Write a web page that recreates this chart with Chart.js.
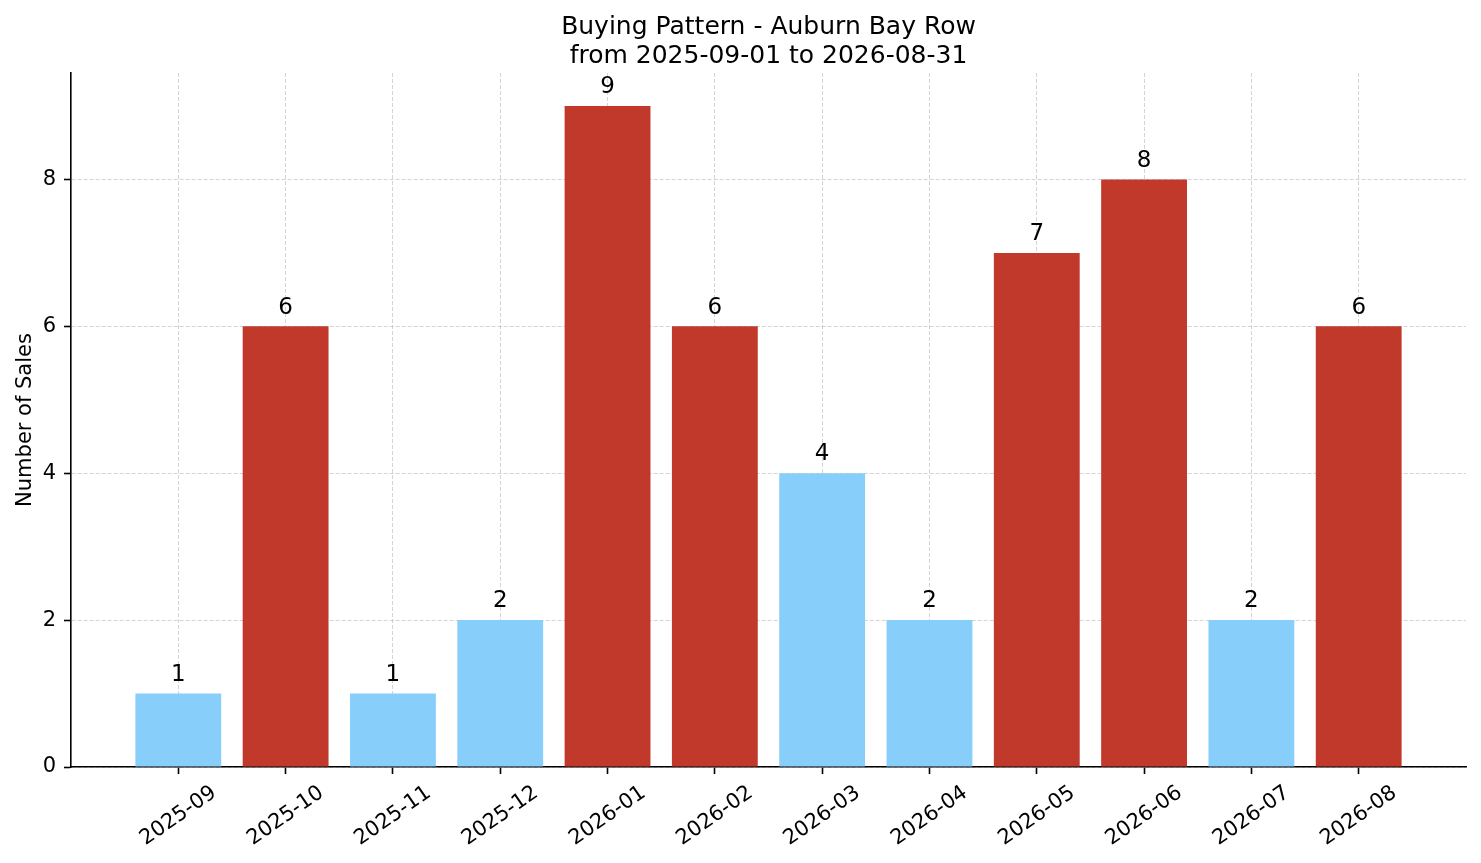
<!DOCTYPE html>
<html>
<head>
<meta charset="utf-8">
<script src="https://cdn.jsdelivr.net/npm/chart.js@4/dist/chart.umd.min.js"></script>
<style>
  html, body { margin: 0; padding: 0; background: #fff; }
  #wrap { width: 1481px; height: 863px; }
</style>
</head>
<body>
<div id="wrap"><canvas id="salesChart" width="1481" height="863"></canvas></div>
<script>
// data
const months = ['2025-09', '2025-10', '2025-11', '2025-12', '2026-01', '2026-02',
                '2026-03', '2026-04', '2026-05', '2026-06', '2026-07', '2026-08'];
const sales = [1, 6, 1, 2, 9, 6, 4, 2, 7, 8, 2, 6];
const yTicks = [0, 2, 4, 6, 8];
const titleLines = ['Buying Pattern - Auburn Bay Row', 'from 2025-09-01 to 2026-08-31'];
const yTitle = 'Number of Sales';

const HIGH = '#c0392b';
const LOW = '#87cefa';
const FONT = '"DejaVu Sans", "Liberation Sans", sans-serif';
const gridColor = 'rgba(170, 170, 170, 0.5)';

// bars at 5 or more sales are red, the rest light blue
const barColors = sales.map(v => (v >= 5 ? HIGH : LOW));

// draws title, rotated month labels, y title and bar value labels
const textPlugin = {
    id: 'textPlugin',
    afterDraw(chart) {
        const ctx = chart.ctx;
        const x = chart.scales.x;
        const y = chart.scales.y;
        const area = chart.chartArea;
        ctx.save();
        ctx.fillStyle = '#000';

        // title, centred over the axes
        ctx.font = '25px ' + FONT;
        ctx.textAlign = 'center';
        ctx.textBaseline = 'alphabetic';
        const cx = (area.left + area.right) / 2;
        ctx.fillText(titleLines[0], cx, 34);
        ctx.fillText(titleLines[1], cx, 63);

        // value labels above bars
        ctx.font = '23px ' + FONT;
        sales.forEach((v, i) => {
            ctx.fillText(String(v), x.getPixelForValue(i), y.getPixelForValue(v + 0.1) - 5.4);
        });

        // month labels rotated 35 degrees, centred under tick
        ctx.font = '21px ' + FONT;
        ctx.textBaseline = 'middle';
        const angle = 35 * Math.PI / 180;
        months.forEach((m, i) => {
            const w = ctx.measureText(m).width;
            const h = 24;
            const boxH = w * Math.sin(angle) + h * Math.cos(angle);
            ctx.save();
            ctx.translate(x.getPixelForValue(i), area.bottom + 14 + boxH / 2);
            ctx.rotate(-angle);
            ctx.fillText(m, 0, 0);
            ctx.restore();
        });

        // y axis title
        ctx.textBaseline = 'alphabetic';
        ctx.translate(31, (area.top + area.bottom) / 2);
        ctx.rotate(-Math.PI / 2);
        ctx.fillText(yTitle, 0, 0);
        ctx.restore();
    }
};

const ctx = document.getElementById('salesChart').getContext('2d');
const salesChart = new Chart(ctx, {
    type: 'bar',
    data: {
        datasets: [{
            label: 'Sales',
            data: months.map((m, i) => ({ x: i, y: sales[i] })),
            backgroundColor: barColors,
            borderWidth: 0,
            categoryPercentage: 0.8,
            barPercentage: 1.0
        }]
    },
    options: {
        responsive: false,
        animation: false,
        devicePixelRatio: 1,
        layout: {
            padding: { top: 73, right: 15, bottom: 0, left: 0 }
        },
        plugins: {
            legend: { display: false },
            tooltip: { enabled: false },
            title: { display: false }
        },
        scales: {
            x: {
                type: 'linear',
                min: -1,
                max: 12,
                offset: false,
                z: 1,
                afterBuildTicks: scale => {
                    scale.ticks = months.map((m, i) => ({ value: i }));
                },
                afterFit: scale => { scale.height = 96; },
                grid: {
                    offset: false,
                    color: gridColor,
                    lineWidth: 1,
                    drawTicks: true,
                    tickLength: 7,
                    tickColor: '#000',
                    tickWidth: 1.6,
                    tickBorderDash: []
                },
                // in v4 border.dash sets the dash of the grid lines
                border: { display: true, color: '#000', width: 1.6, dash: [4, 2] },
                ticks: { display: false }
            },
            y: {
                type: 'linear',
                min: 0,
                max: 9.45,
                z: 1,
                afterBuildTicks: scale => {
                    scale.ticks = yTicks.map(v => ({ value: v }));
                },
                afterFit: scale => { scale.width = 71; },
                grid: {
                    color: gridColor,
                    lineWidth: 1,
                    tickLength: 7,
                    tickColor: '#000',
                    tickWidth: 1.6,
                    tickBorderDash: []
                },
                border: { display: true, color: '#000', width: 1.6, dash: [4, 2] },
                ticks: {
                    color: '#000',
                    padding: 8,
                    font: { family: FONT, size: 21 }
                }
            }
        }
    },
    plugins: [textPlugin]
});
</script>
</body>
</html>
